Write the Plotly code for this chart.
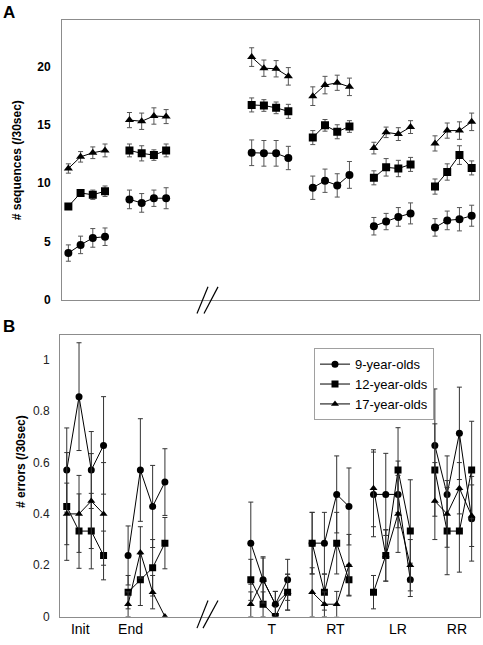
import plotly.graph_objects as go

# ---------------- data ----------------
groups = ["Init", "End", "T", "RT", "LR", "RR"]
group_start = [1, 6, 16, 21, 26, 31]          # x position of first trial of each block
trials_per_group = 4
group_label_pos = [2.1, 6.2, 17.7, 22.9, 28.0, 32.8]

series_names = ["9-year-olds", "12-year-olds", "17-year-olds"]

# Panel A: number of sequences (/30sec)
seq9 = [4.0, 4.7, 5.3, 5.4, 8.6, 8.3, 8.7, 8.7, 12.6, 12.55, 12.55, 12.15,
        9.6, 10.2, 9.8, 10.7, 6.3, 6.7, 7.1, 7.4, 6.2, 6.8, 6.9, 7.2]
seq9_err = [0.7, 0.75, 0.8, 0.75, 0.8, 0.8, 0.7, 0.9, 1.1, 1.1, 1.1, 1.0,
            1.0, 1.0, 1.0, 1.15, 0.75, 0.7, 0.8, 0.9, 0.75, 0.8, 1.0, 0.9]
seq12 = [8.0, 9.15, 9.0, 9.3, 12.8, 12.55, 12.4, 12.8, 16.7, 16.65, 16.45, 16.15,
         13.9, 14.95, 14.4, 14.85, 10.45, 11.35, 11.25, 11.6, 9.7, 10.95, 12.4, 11.3]
seq12_err = [0.2, 0.3, 0.4, 0.45, 0.55, 0.65, 0.45, 0.55, 0.6, 0.5, 0.5, 0.6,
             0.6, 0.5, 0.6, 0.5, 0.6, 0.75, 0.7, 0.6, 0.65, 0.7, 0.8, 0.6]
seq17 = [11.25, 12.25, 12.6, 12.8, 15.4, 15.3, 15.75, 15.7, 20.8, 19.85, 19.8, 19.15,
         17.45, 18.4, 18.6, 18.25, 13.0, 14.35, 14.2, 14.8, 13.4, 14.5, 14.5, 15.25]
seq17_err = [0.4, 0.45, 0.5, 0.55, 0.65, 0.7, 0.7, 0.6, 0.8, 0.7, 0.7, 0.75,
             0.8, 0.75, 0.65, 0.75, 0.5, 0.45, 0.55, 0.55, 0.65, 0.65, 0.75, 0.75]

# Panel B: number of errors (/30sec)
err9 = [0.571, 0.857, 0.571, 0.667, 0.238, 0.571, 0.429, 0.524, 0.286, 0.143, 0.048, 0.143,
        0.286, 0.286, 0.476, 0.429, 0.476, 0.476, 0.476, 0.143, 0.667, 0.476, 0.714, 0.381]
err9_sd = [0.164, 0.21, 0.15, 0.19, 0.115, 0.2, 0.16, 0.13, 0.16, 0.085, 0.05, 0.08,
           0.12, 0.12, 0.15, 0.15, 0.165, 0.16, 0.13, 0.065, 0.22, 0.15, 0.18, 0.165]
err12 = [0.429, 0.333, 0.333, 0.238, 0.095, 0.143, 0.190, 0.286, 0.143, 0.048, 0.0, 0.095,
         0.286, 0.095, 0.286, 0.143, 0.095, 0.238, 0.571, 0.333, 0.571, 0.333, 0.333, 0.571]
err12_sd = [0.21, 0.145, 0.147, 0.095, 0.065, 0.1, 0.11, 0.1, 0.08, 0.048, 0.0, 0.07,
            0.12, 0.07, 0.12, 0.06, 0.065, 0.1, 0.165, 0.2, 0.18, 0.17, 0.16, 0.19]
err17 = [0.40, 0.40, 0.45, 0.40, 0.048, 0.25, 0.095, 0.0, 0.048, 0.143, 0.048, 0.095,
         0.095, 0.048, 0.048, 0.20, 0.50, 0.238, 0.40, 0.20, 0.45, 0.40, 0.50, 0.393]
err17_sd = [0.12, 0.15, 0.185, 0.2, 0.048, 0.1, 0.065, 0.0, 0.048, 0.09, 0.05, 0.07,
            0.095, 0.048, 0.05, 0.12, 0.15, 0.1, 0.15, 0.1, 0.15, 0.13, 0.1, 0.12]

# ---------------- helpers ----------------
def with_gaps(values):
    """Split a flat per-trial list into blocks separated by None (no line between blocks)."""
    out = []
    for g in range(len(groups)):
        out.extend(values[g * trials_per_group:(g + 1) * trials_per_group])
        if g < len(groups) - 1:
            out.append(None)
    return out

xs = []
for g, s in enumerate(group_start):
    xs.extend([s + i for i in range(trials_per_group)])
    if g < len(groups) - 1:
        xs.append(None)

FONT = "Arial, 'Liberation Sans', sans-serif"
W, H = 483, 645
symbols = ["circle", "square", "triangle-up"]
sizesA = [8, 8, 8]
sizesB = [7, 7, 7]

fig = go.Figure()

seqA = [(seq9, seq9_err), (seq12, seq12_err), (seq17, seq17_err)]
errB = [(err9, err9_sd), (err12, err12_sd), (err17, err17_sd)]

for i, (vals, sd) in enumerate(seqA):
    fig.add_trace(go.Scatter(
        x=xs, y=with_gaps(vals), mode="lines+markers", name=series_names[i],
        showlegend=False, xaxis="x", yaxis="y",
        line=dict(color="black", width=1),
        marker=dict(symbol=symbols[i], size=sizesA[i], color="black"),
        error_y=dict(type="data", array=with_gaps(sd), visible=True,
                     color="#555555", thickness=1, width=2.5),
        connectgaps=False,
    ))

for i, (vals, sd) in enumerate(errB):
    fig.add_trace(go.Scatter(
        x=xs, y=with_gaps(vals), mode="lines+markers", name=series_names[i],
        showlegend=True, xaxis="x2", yaxis="y2",
        line=dict(color="black", width=1),
        marker=dict(symbol=symbols[i], size=sizesB[i], color="black"),
        error_y=dict(type="data", array=with_gaps(sd), visible=True,
                     color="#333333", thickness=1, width=2.5),
        connectgaps=False,
    ))

def px_x(p):
    return p / W

def px_y(p):
    return 1 - p / H

axis_common = dict(showline=True, mirror=True, linecolor="#8c8c8c", linewidth=1,
                   showgrid=False, zeroline=False, ticks="")

ann_common = dict(xref="paper", yref="paper", showarrow=False, xanchor="center", yanchor="middle")

fig.update_layout(
    width=W, height=H,
    margin=dict(l=0, r=0, t=0, b=0),
    paper_bgcolor="white", plot_bgcolor="white",
    font=dict(family=FONT, color="black"),
    xaxis=dict(domain=[px_x(62), px_x(479)], range=[0.48, 34.6], anchor="y",
               showticklabels=False, **axis_common),
    yaxis=dict(domain=[px_y(303), px_y(20)], range=[0, 24], anchor="x",
               tickvals=[0, 5, 10, 15, 20], ticktext=["<b>0</b>", "<b>5</b>", "<b>10</b>", "<b>15</b>", "<b>20</b>"],
               tickfont=dict(size=12, family=FONT, color="black"), ticklabelstandoff=8,
               **axis_common),
    xaxis2=dict(domain=[px_x(60), px_x(480)], range=[0.45, 34.68], anchor="y2",
                tickvals=group_label_pos, ticktext=groups,
                tickfont=dict(size=14, family=FONT, color="black"), ticklabelstandoff=0,
                **axis_common),
    yaxis2=dict(domain=[px_y(623.3), px_y(339)], range=[0, 1.096], anchor="x2",
                tickvals=[0, 0.2, 0.4, 0.6, 0.8, 1.0], ticktext=["0", "0.2", "0.4", "0.6", "0.8", "1"],
                tickfont=dict(size=12, family=FONT, color="#222222"), ticklabelstandoff=7,
                **axis_common),
    legend=dict(x=px_x(314), y=px_y(352), xanchor="left", yanchor="top",
                bgcolor="white", bordercolor="#a0a0a0", borderwidth=1,
                font=dict(size=13, family=FONT, color="black"),
                itemwidth=30, tracegroupgap=0),
    annotations=[
        dict(text="<b>A</b>", x=px_x(9), y=px_y(13), font=dict(size=17, family=FONT), **ann_common),
        dict(text="<b>B</b>", x=px_x(9), y=px_y(330), font=dict(size=17, family=FONT), **ann_common),
        dict(text="<b># sequences (/30sec)</b>", x=px_x(17), y=px_y(162), textangle=-90,
             font=dict(size=12, family=FONT), **ann_common),
        dict(text="<b># errors (/30sec)</b>", x=px_x(21), y=px_y(467), textangle=-90,
             font=dict(size=12, family=FONT), **ann_common),
    ],
    shapes=[
        # axis-break marks "//"
        dict(type="line", xref="paper", yref="paper", x0=px_x(197), y0=px_y(317), x1=px_x(208), y1=px_y(290),
             line=dict(color="black", width=1.2)),
        dict(type="line", xref="paper", yref="paper", x0=px_x(204), y0=px_y(317), x1=px_x(218), y1=px_y(290),
             line=dict(color="black", width=1.2)),
        dict(type="line", xref="paper", yref="paper", x0=px_x(197), y0=px_y(635), x1=px_x(208), y1=px_y(607),
             line=dict(color="black", width=1.2)),
        dict(type="line", xref="paper", yref="paper", x0=px_x(203), y0=px_y(635), x1=px_x(218), y1=px_y(607),
             line=dict(color="black", width=1.2)),
    ],
)

fig.write_html(
    "out.html",
    config={"displayModeBar": False},
    post_script="document.body.style.margin='0';document.body.style.padding='0';"
                "document.documentElement.style.overflow='hidden';",
)
